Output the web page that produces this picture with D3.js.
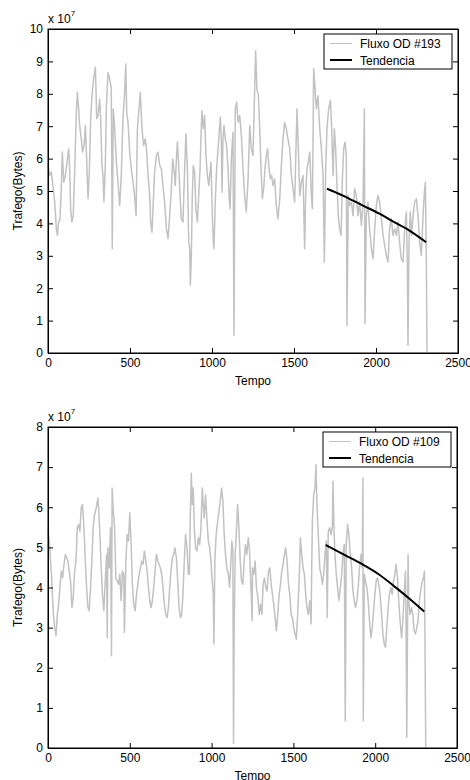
<!DOCTYPE html>
<html>
<head>
<meta charset="utf-8">
<script src="https://cdn.jsdelivr.net/npm/d3@7"></script>
<style>
  body { margin: 0; background: #fff; }
  svg { display: block; font-family: "Liberation Sans", Arial, sans-serif; }
</style>
</head>
<body>
<svg id="chart" width="470" height="780"></svg>
<script>
// Fluxo OD #193 (top panel), values in units of 1e7 bytes
const time193 = [0,10,20,30,41,51,57,65,73,81,87,96,106,116,126,132,138,146,154,163,173,179,187,193,203,211,220,228,234,244,252,260,268,278,289,297,305,315,321,329,335,341,350,356,366,376,386,392,398,407,417,427,437,447,457,467,474,480,488,498,508,518,528,537,545,555,563,573,583,593,602,610,620,626,634,642,650,661,671,681,691,701,711,722,732,742,752,760,768,776,783,789,797,805,813,823,833,841,850,858,864,868,874,880,886,894,902,911,919,927,935,939,947,955,963,972,980,988,994,1002,1008,1012,1020,1028,1037,1045,1051,1057,1061,1067,1073,1081,1089,1098,1104,1110,1118,1128,1134,1142,1150,1159,1169,1179,1189,1199,1209,1220,1230,1240,
  1250,1266,1274,1283,1291,1299,1307,1315,1323,1331,1339,1348,1356,1364,1372,1382,1392,1402,1413,1423,1433,1443,1453,1463,1474,1484,1494,1504,1510,1518,1526,1535,1545,1555,1565,1571,1579,1587,1596,1606,1612,1620,1626,1636,1646,1657,1667,1677,1685,1693,1701,1711,1722,1730,1738,1746,1754,1762,1770,1778,1787,1795,1803,1811,1819,1823,1831,1839,1850,1860,1870,1880,1890,1900,1911,1921,1929,1933,1941,1951,1961,1972,1982,1992,2002,2012,2022,2033,2043,2053,2063,2073,2083,2093,2104,2114,2124,2134,2144,2154,2165,2175,2185,2191,2195,2201,2209,2217,2226,2236,2246,2256,2266,2276,2287,2295,2301,2307,2311];
const bytes193 = [5.79,5.48,5.58,5.17,4.66,3.83,3.63,4.04,4.14,5.07,6.20,5.27,5.48,5.89,6.30,5.68,4.45,4.04,4.24,5.68,7.43,8.05,7.53,7.02,6.61,6.20,6.40,7.02,6.20,4.76,5.58,7.23,7.94,8.46,8.82,7.23,7.33,7.84,7.23,5.79,5.48,4.66,5.89,7.64,8.66,8.46,8.15,3.22,7.53,6.92,5.89,5.27,4.55,5.48,7.23,8.00,8.92,7.43,7.12,6.20,5.68,5.27,4.86,4.24,6.92,7.53,8.05,6.92,6.40,6.61,6.20,5.48,4.86,4.04,3.73,4.66,5.58,6.09,6.20,5.79,5.68,5.17,4.66,3.83,3.53,4.24,5.07,5.99,5.68,5.17,5.99,6.51,5.79,4.86,4.14,4.04,5.68,6.76,5.68,3.42,3.22,2.09,3.01,4.86,5.79,5.58,4.45,4.04,4.86,5.68,7.02,7.48,6.92,7.33,6.09,5.48,5.17,5.58,5.89,4.24,3.42,3.22,4.66,5.68,6.30,6.92,7.28,6.51,4.96,6.61,7.02,6.61,6.40,5.68,4.86,4.45,5.99,6.81,0.54,7.53,7.74,7.12,7.33,6.71,5.68,4.86,4.35,5.38,7.02,6.30,
  6.09,9.33,8.15,7.94,6.92,5.68,4.76,5.07,5.68,6.09,6.30,5.68,5.38,5.48,5.17,5.38,4.55,4.14,4.76,5.79,6.61,7.12,6.92,6.61,6.30,5.48,5.07,4.66,5.89,7.53,6.40,4.86,5.27,5.48,3.22,4.86,5.68,5.89,6.20,4.86,4.45,8.77,8.36,7.53,7.94,6.92,6.30,5.48,2.81,5.68,6.92,7.53,7.79,6.92,5.48,6.92,6.30,5.17,4.24,3.83,3.63,5.38,6.30,6.51,6.09,0.85,4.86,4.55,4.66,4.24,5.07,4.86,4.24,4.66,3.94,4.66,7.53,0.90,4.24,4.66,3.83,3.22,2.91,3.83,4.55,4.86,4.66,4.14,3.63,3.32,3.01,2.81,3.83,4.14,3.63,3.83,3.63,4.04,3.42,2.91,2.81,3.83,4.35,2.81,0.24,3.32,4.35,3.63,4.24,4.66,4.76,4.24,3.42,3.01,4.24,4.96,5.27,2.81,0.03];
const trendTime193 = [1701,1798,1920,2021,2103,2204,2306];
const trendBytes193 = [5.07,4.86,4.55,4.30,4.06,3.78,3.42];

// Fluxo OD #109 (bottom panel)
const time109 = [0,8,16,24,33,41,49,57,65,73,81,89,98,106,114,122,130,138,146,154,163,171,179,187,195,203,211,220,228,236,244,252,260,268,276,285,295,305,311,317,325,333,341,350,358,362,366,374,382,388,392,398,407,415,423,431,439,447,455,463,467,476,484,492,500,508,516,524,533,541,549,557,565,573,581,589,598,606,614,622,630,638,646,654,663,671,679,687,695,703,711,720,728,736,744,752,760,768,776,785,793,801,809,817,825,833,841,850,858,864,870,876,882,888,894,902,911,919,927,935,943,949,955,963,972,980,988,996,1004,1010,1014,1020,1028,1037,1045,1053,1061,1069,1077,1085,1093,1102,1110,1118,1124,1130,1134,1138,1144,1150,1159,1167,1175,1183,1191,1199,1207,1215,1224,1232,1240,1248,
  1250,1258,1266,1274,1283,1291,1299,1307,1315,1323,1331,1339,1348,1356,1364,1372,1380,1388,1396,1404,1413,1421,1429,1437,1445,1453,1461,1470,1478,1486,1494,1502,1510,1518,1526,1535,1543,1551,1559,1567,1575,1583,1591,1600,1608,1612,1616,1624,1632,1638,1644,1652,1661,1669,1677,1685,1693,1701,1707,1713,1722,1730,1738,1742,1748,1754,1762,1770,1778,1787,1795,1803,1811,1817,1823,1831,1839,1848,1856,1864,1872,1880,1888,1896,1904,1913,1921,1925,1927,1933,1941,1949,1957,1965,1974,1982,1990,1998,2006,2014,2022,2030,2039,2047,2055,2063,2071,2079,2087,2096,2104,2112,2120,2128,2136,2144,2152,2161,2169,2177,2185,2189,2193,2197,2201,2205,2213,2222,2230,2238,2246,2254,2262,2270,2278,2287,2295,2301,2305,2309];
const bytes109 = [5.40,5.16,4.66,4.08,3.33,3.00,2.80,3.33,3.58,4.00,4.41,4.24,4.58,4.82,4.74,4.66,4.41,4.16,3.50,3.75,4.41,4.66,5.49,5.57,5.40,5.98,6.07,5.49,4.66,4.00,3.50,3.42,4.00,4.66,5.49,5.82,5.98,6.23,5.90,5.32,4.49,3.83,3.42,4.16,4.82,2.75,4.99,4.49,5.49,2.30,6.48,5.98,5.49,4.24,4.16,4.08,4.33,3.67,4.41,4.33,2.88,4.66,5.32,5.16,5.86,5.07,4.08,3.58,3.42,3.83,4.08,4.33,4.49,4.66,4.58,4.91,4.66,4.41,4.00,3.67,3.50,3.67,4.00,4.41,4.82,4.66,4.58,4.49,4.33,4.00,3.58,3.33,3.25,3.50,4.00,4.41,4.74,4.82,4.99,4.74,4.16,3.50,3.25,3.33,3.83,4.66,5.32,4.99,4.33,4.33,5.82,6.85,6.07,6.48,5.49,4.99,4.91,5.24,5.07,5.49,6.48,6.07,5.73,6.31,5.65,5.16,4.99,4.66,4.16,3.83,2.59,4.66,5.32,5.65,5.90,6.15,6.48,6.15,5.32,4.82,4.49,4.33,4.00,4.66,5.16,4.91,0.11,3.00,4.82,5.24,6.07,5.49,4.66,4.16,4.08,4.66,5.07,4.82,5.24,4.91,4.08,3.17,
  4.49,4.33,4.66,4.00,3.75,3.33,3.58,3.33,4.08,4.24,4.00,3.91,4.41,4.49,4.08,3.83,3.58,3.25,2.92,3.33,3.83,4.08,4.41,4.58,4.82,4.99,4.66,4.08,3.83,3.33,3.25,3.00,2.84,2.71,3.33,4.16,5.24,4.82,4.49,4.33,3.83,3.50,3.33,3.67,3.09,4.49,5.65,6.31,6.48,7.06,6.07,5.32,4.49,4.33,4.08,4.33,4.82,5.16,3.25,5.40,5.49,5.32,5.49,6.65,5.49,4.82,4.33,4.00,3.67,4.00,4.33,4.82,5.07,0.68,5.07,5.57,5.32,4.82,4.49,3.91,3.67,3.50,3.67,4.00,4.49,4.82,4.49,6.73,0.68,4.33,4.16,4.00,3.67,3.17,2.75,3.00,3.42,3.83,4.16,4.24,4.08,3.83,3.33,2.84,2.59,2.51,3.00,3.50,3.83,4.00,3.83,4.16,4.33,4.58,4.24,3.67,3.17,2.75,3.17,3.83,4.41,3.00,0.27,2.59,4.82,3.67,3.33,3.50,3.33,2.92,2.84,3.00,3.17,3.67,3.91,4.16,4.24,4.41,2.18,0.02];
const trendTime109 = [1697,1818,1920,2021,2123,2224,2300];
const trendBytes109 = [5.06,4.80,4.58,4.33,4.01,3.67,3.40];

const xTicks = [0, 500, 1000, 1500, 2000, 2500];
const yTicks193 = [0, 1, 2, 3, 4, 5, 6, 7, 8, 9, 10];
const yTicks109 = [0, 1, 2, 3, 4, 5, 6, 7, 8];

const svg = d3.select('#chart');

function zip(a, b) {
  return a.map((t, i) => [t, b[i]]);
}

function drawPanel(opt) {
  const g = svg.append('g');
  const x = d3.scaleLinear().domain([0, 2500]).range([opt.left, opt.right]);
  const y = d3.scaleLinear().domain([0, opt.yMax]).range([opt.bottom, opt.top]);

  // traffic series
  const line = d3.line().x(d => x(d[0])).y(d => y(d[1]));
  g.append('path')
    .datum(zip(opt.time, opt.bytes))
    .attr('d', line)
    .attr('fill', 'none')
    .attr('stroke', '#c2c2c2')
    .attr('stroke-width', 1.5)
    .attr('stroke-linejoin', 'round');

  // trend
  const trend = d3.line().x(d => x(d[0])).y(d => y(d[1])).curve(d3.curveMonotoneX);
  g.append('path')
    .datum(zip(opt.trendTime, opt.trendBytes))
    .attr('d', trend)
    .attr('fill', 'none')
    .attr('stroke', '#000')
    .attr('stroke-width', 2);

  // axes, ticks pointing inward (matlab style)
  const fmt = d3.format('d');
  g.append('g')
    .attr('transform', `translate(0,${opt.bottom})`)
    .call(d3.axisBottom(x).tickValues(xTicks).tickFormat(fmt).tickSizeInner(-5).tickSizeOuter(0).tickPadding(5));
  g.append('g')
    .attr('transform', `translate(0,${opt.top})`)
    .call(d3.axisTop(x).tickValues(xTicks).tickFormat('').tickSizeInner(-5).tickSizeOuter(0));
  g.append('g')
    .attr('transform', `translate(${opt.left},0)`)
    .call(d3.axisLeft(y).tickValues(opt.yTicks).tickFormat(fmt).tickSizeInner(-5).tickSizeOuter(0).tickPadding(5));
  g.append('g')
    .attr('transform', `translate(${opt.right},0)`)
    .call(d3.axisRight(y).tickValues(opt.yTicks).tickFormat('').tickSizeInner(-5).tickSizeOuter(0));

  g.selectAll('.tick text').attr('font-size', 12).attr('font-family', '"Liberation Sans", Arial, sans-serif').attr('fill', '#000');
  g.selectAll('.domain, .tick line').attr('stroke', '#000');

  g.append('rect')
    .attr('x', opt.left).attr('y', opt.top)
    .attr('width', opt.right - opt.left).attr('height', opt.bottom - opt.top)
    .attr('fill', 'none').attr('stroke', '#000').attr('stroke-width', 1);

  // exponent label
  const ex = g.append('text')
    .attr('x', opt.left).attr('y', opt.top - 6)
    .attr('font-size', 12);
  ex.append('tspan').text('x 10');
  ex.append('tspan').attr('dy', -7).attr('font-size', 8).text('7');

  // axis titles
  g.append('text')
    .attr('x', (opt.left + opt.right) / 2).attr('y', opt.bottom + 32)
    .attr('text-anchor', 'middle').attr('font-size', 12)
    .text('Tempo');
  g.append('text')
    .attr('transform', `translate(22,${(opt.top + opt.bottom) / 2}) rotate(-90)`)
    .attr('text-anchor', 'middle').attr('font-size', 12)
    .text('Trafego(Bytes)');

  // legend
  const lg = g.append('g').attr('transform', `translate(${opt.right - 134},${opt.top + 5})`);
  lg.append('rect')
    .attr('x', 0).attr('y', 0).attr('width', 128).attr('height', 35)
    .attr('fill', '#fff').attr('stroke', '#000').attr('stroke-width', 1);
  const items = [
    { label: opt.name, color: '#c2c2c2', width: 1 },
    { label: 'Tendencia', color: '#000', width: 2 }
  ];
  items.forEach((it, i) => {
    const yy = 9.5 + i * 16.5;
    lg.append('line')
      .attr('x1', 6).attr('x2', 28).attr('y1', yy).attr('y2', yy)
      .attr('stroke', it.color).attr('stroke-width', it.width);
    lg.append('text')
      .attr('x', 36).attr('y', yy + 4.5)
      .attr('font-size', 12)
      .text(it.label);
  });
}

drawPanel({
  left: 48, right: 458, top: 29, bottom: 353, yMax: 10, yTicks: yTicks193,
  time: time193, bytes: bytes193, trendTime: trendTime193, trendBytes: trendBytes193,
  name: 'Fluxo OD #193'
});
drawPanel({
  left: 48, right: 457, top: 427, bottom: 748, yMax: 8, yTicks: yTicks109,
  time: time109, bytes: bytes109, trendTime: trendTime109, trendBytes: trendBytes109,
  name: 'Fluxo OD #109'
});
</script>
</body>
</html>
